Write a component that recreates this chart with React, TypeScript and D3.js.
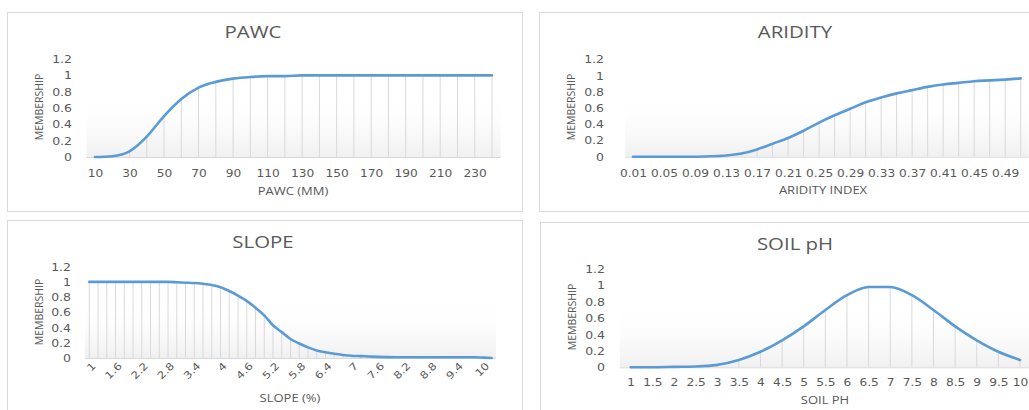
import React, { useEffect, useRef } from "react";
import * as d3 from "d3";

// ---- data ----
const pawcCategories = ["10", "20", "30", "40", "50", "60", "70", "80", "90", "100", "110", "120", "130", "140", "150", "160", "170", "180", "190", "200", "210", "220", "230", "240"];
const pawcValues = [0, 0.01, 0.07, 0.25, 0.5, 0.71, 0.85, 0.92, 0.96, 0.98, 0.99, 0.99, 1, 1, 1, 1, 1, 1, 1, 1, 1, 1, 1, 1];
const pawcLabels = ["10", "30", "50", "70", "90", "110", "130", "150", "170", "190", "210", "230"];

const aridityCategories = ["0.01", "0.03", "0.05", "0.07", "0.09", "0.11", "0.13", "0.15", "0.17", "0.19", "0.21", "0.23", "0.25", "0.27", "0.29", "0.31", "0.33", "0.35", "0.37", "0.39", "0.41", "0.43", "0.45", "0.47", "0.49", "0.51"];
const aridityValues = [0, 0, 0, 0, 0, 0.005, 0.015, 0.04, 0.09, 0.16, 0.23, 0.32, 0.42, 0.51, 0.59, 0.67, 0.73, 0.78, 0.82, 0.86, 0.89, 0.91, 0.93, 0.94, 0.95, 0.965];
const aridityLabels = ["0.01", "0.05", "0.09", "0.13", "0.17", "0.21", "0.25", "0.29", "0.33", "0.37", "0.41", "0.45", "0.49"];

const slopeCategories = ["1", "1.2", "1.4", "1.6", "1.8", "2", "2.2", "2.4", "2.6", "2.8", "3", "3.2", "3.4", "3.6", "3.8", "4", "4.2", "4.4", "4.6", "4.8", "5", "5.2", "5.4", "5.6", "5.8", "6", "6.2", "6.4", "6.6", "6.8", "7", "7.2", "7.4", "7.6", "7.8", "8", "8.2", "8.4", "8.6", "8.8", "9", "9.2", "9.4", "9.6", "9.8", "10", "10.2"];
const slopeValues = [1, 1, 1, 1, 1, 1, 1, 1, 1, 1, 0.995, 0.99, 0.985, 0.975, 0.96, 0.93, 0.88, 0.82, 0.75, 0.66, 0.56, 0.43, 0.34, 0.25, 0.19, 0.14, 0.1, 0.075, 0.055, 0.04, 0.03, 0.025, 0.02, 0.015, 0.012, 0.01, 0.01, 0.01, 0.01, 0.01, 0.01, 0.01, 0.01, 0.01, 0.01, 0.005, 0];
const slopeLabels = ["1", "1.6", "2.2", "2.8", "3.4", "4", "4.6", "5.2", "5.8", "6.4", "7", "7.6", "8.2", "8.8", "9.4", "10"];

const phCategories = ["1", "1.5", "2", "2.5", "3", "3.5", "4", "4.5", "5", "5.5", "6", "6.5", "7", "7.5", "8", "8.5", "9", "9.5", "10"];
const phValues = [0, 0, 0.005, 0.01, 0.03, 0.09, 0.19, 0.33, 0.5, 0.7, 0.88, 0.98, 0.98, 0.88, 0.7, 0.5, 0.33, 0.19, 0.09];
const phLabels = phCategories;

const yTicks = [0, 0.2, 0.4, 0.6, 0.8, 1, 1.2];

// ---- layout of the four panels ----
const panels = [
  {
    id: "pawc", title: "PAWC", xTitle: "PAWC (MM)",
    categories: pawcCategories, values: pawcValues, labels: pawcLabels,
    box: [7, 12, 515, 199], xRange: [95, 492], yRange: [157, 59],
    titleAt: [253, 32], xTitleAt: [293, 191], yTitleAt: [39, 107],
    yTickRight: 72, labelY: 173, rotate: false,
  },
  {
    id: "aridity", title: "ARIDITY", xTitle: "ARIDITY INDEX",
    categories: aridityCategories, values: aridityValues, labels: aridityLabels,
    box: [539, 12, 520, 199], xRange: [633, 1020.7], yRange: [156.7, 59.3],
    titleAt: [795, 32], xTitleAt: [823, 190], yTitleAt: [571, 107],
    yTickRight: 604, labelY: 173, rotate: false,
  },
  {
    id: "slope", title: "SLOPE", xTitle: "SLOPE (%)",
    categories: slopeCategories, values: slopeValues, labels: slopeLabels,
    box: [7, 220, 515, 220], xRange: [89.3, 491.7], yRange: [358, 266.7],
    titleAt: [263, 242], xTitleAt: [290, 398], yTitleAt: [39, 312],
    yTickRight: 71, labelY: 364, rotate: true,
  },
  {
    id: "ph", title: "SOIL pH", xTitle: "SOIL PH",
    categories: phCategories, values: phValues, labels: phLabels,
    box: [540, 222, 520, 220], xRange: [630.7, 1020], yRange: [367.3, 269],
    titleAt: [795, 244], xTitleAt: [825, 400], yTitleAt: [572, 317],
    yTickRight: 605, labelY: 382, rotate: false,
  },
];

const lineColor = "#5b9bd5";
const textColor = "#595959";
const gridColor = "#d9d9d9";

export default function App() {
  const ref = useRef<SVGSVGElement>(null);

  useEffect(() => {
    const svg = d3.select(ref.current);
    svg.selectAll("*").remove();

    const defs = svg.append("defs");
    const grad = defs
      .append("linearGradient")
      .attr("id", "plotFill")
      .attr("x1", 0).attr("y1", 0).attr("x2", 0).attr("y2", 1);
    grad.append("stop").attr("offset", "0%").attr("stop-color", "#ffffff").attr("stop-opacity", 0);
    grad.append("stop").attr("offset", "35%").attr("stop-color", "#ffffff").attr("stop-opacity", 0);
    grad.append("stop").attr("offset", "100%").attr("stop-color", "#f0f0f0").attr("stop-opacity", 1);

    panels.forEach((p) => {
      const g = svg.append("g").attr("class", p.id);

      // panel frame
      g.append("rect")
        .attr("x", p.box[0] + 0.5)
        .attr("y", p.box[1] + 0.5)
        .attr("width", p.box[2])
        .attr("height", p.box[3])
        .attr("fill", "#fff")
        .attr("stroke", gridColor);

      const x = d3.scalePoint<string>().domain(p.categories).range(p.xRange as [number, number]);
      const y = d3.scaleLinear().domain([0, 1.2]).range(p.yRange as [number, number]);
      const half = x.step() / 2;

      // plot area shading
      g.append("rect")
        .attr("x", p.xRange[0] - half)
        .attr("y", y(1.2))
        .attr("width", p.xRange[1] - p.xRange[0] + 2 * half)
        .attr("height", y(0) - y(1.2))
        .attr("fill", "url(#plotFill)");

      // drop lines
      g.append("g")
        .selectAll("line")
        .data(p.values)
        .enter()
        .append("line")
        .attr("x1", (_, i) => x(p.categories[i])!)
        .attr("x2", (_, i) => x(p.categories[i])!)
        .attr("y1", y(0))
        .attr("y2", (d) => y(d))
        .attr("stroke", gridColor)
        .attr("stroke-width", 1);

      // category axis line
      g.append("line")
        .attr("x1", p.xRange[0] - half)
        .attr("x2", p.xRange[1] + half)
        .attr("y1", y(0) + 0.5)
        .attr("y2", y(0) + 0.5)
        .attr("stroke", gridColor);

      // the series
      const line = d3
        .line<number>()
        .x((_, i) => x(p.categories[i])!)
        .y((d) => y(d))
        .curve(d3.curveMonotoneX);
      g.append("path")
        .datum(p.values)
        .attr("d", line)
        .attr("fill", "none")
        .attr("stroke", lineColor)
        .attr("stroke-width", 2.6)
        .attr("stroke-linecap", "round");

      // y axis
      const yAxis = g
        .append("g")
        .attr("transform", `translate(${p.yTickRight},0)`)
        .call(d3.axisLeft(y).tickValues(yTicks).tickSize(0).tickPadding(0).tickFormat(d3.format("~g")));
      yAxis.select(".domain").remove();
      yAxis
        .selectAll("text")
        .attr("x", 0)
        .attr("dy", "0.35em")
        .attr("transform", "scale(1.25,1)")
        .attr("fill", textColor)
        .style("font-family", "'DejaVu Sans', sans-serif")
        .style("font-size", "10px");

      // x axis
      const xAxis = g
        .append("g")
        .attr("transform", `translate(0,${p.labelY})`)
        .call(d3.axisBottom(x).tickValues(p.labels).tickSize(0).tickPadding(0));
      xAxis.select(".domain").remove();
      const xt = xAxis
        .selectAll("text")
        .attr("y", 0)
        .attr("dy", "0.35em")
        .attr("fill", textColor)
        .style("font-family", "'DejaVu Sans', sans-serif")
        .style("font-size", "10px");
      if (p.rotate) {
        xt.attr("text-anchor", "end").attr("transform", "translate(4,0) rotate(-45) scale(1.2,1)");
      } else {
        xt.attr("transform", "scale(1.22,1)");
      }

      // titles
      g.append("text")
        .attr("transform", `translate(${p.titleAt[0]},${p.titleAt[1]}) scale(1.2,1)`)
        .attr("text-anchor", "middle")
        .attr("dy", "0.35em")
        .attr("fill", textColor)
        .style("font-family", "'Open Sans', sans-serif")
        .style("font-size", "17px")
        .text(p.title);

      g.append("text")
        .attr("transform", `translate(${p.xTitleAt[0]},${p.xTitleAt[1]}) scale(1.3,1)`)
        .attr("text-anchor", "middle")
        .attr("dy", "0.35em")
        .attr("fill", textColor)
        .style("font-family", "'Open Sans', sans-serif")
        .style("font-size", "10px")
        .text(p.xTitle);

      g.append("text")
        .attr("transform", `translate(${p.yTitleAt[0]},${p.yTitleAt[1]}) rotate(-90) scale(1,1.1)`)
        .attr("text-anchor", "middle")
        .attr("dy", "0.35em")
        .attr("fill", textColor)
        .style("font-family", "'Open Sans', sans-serif")
        .style("font-size", "10.5px")
        .text("MEMBERSHIP");
    });
  }, []);

  return (
    <svg
      ref={ref}
      width={1029}
      height={410}
      style={{ position: "absolute", left: 0, top: 0, background: "#fff" }}
    />
  );
}
